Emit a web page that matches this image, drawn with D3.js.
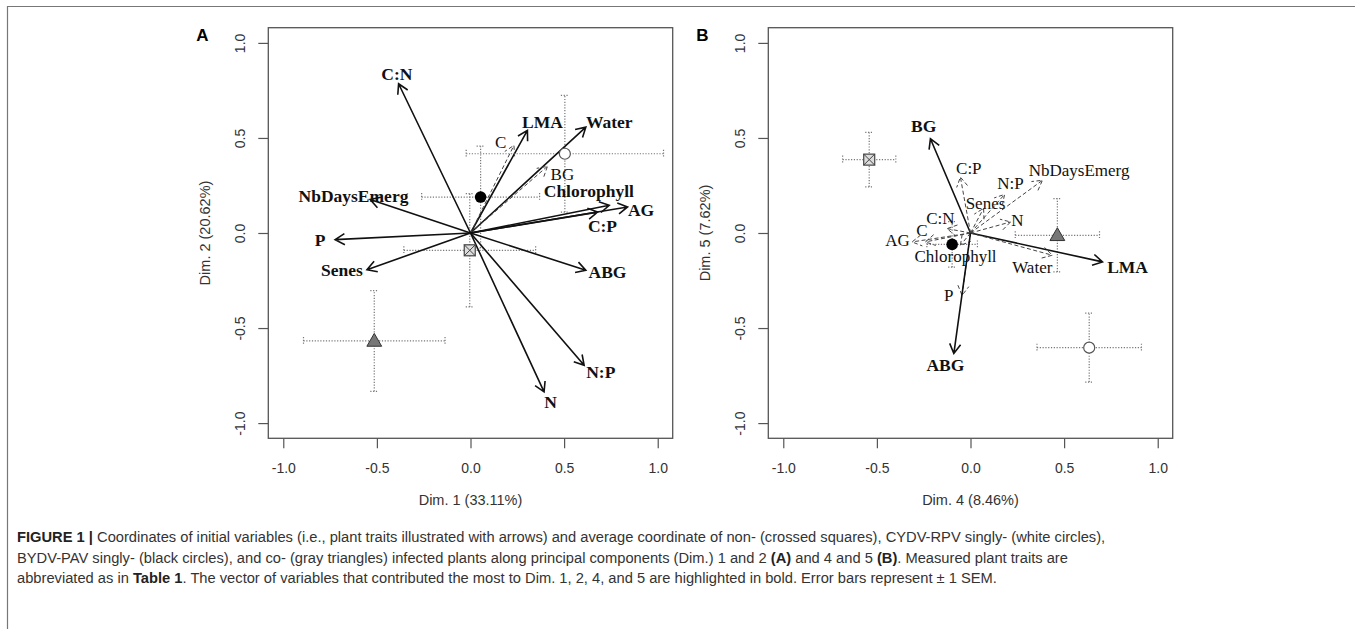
<!DOCTYPE html>
<html lang="en">
<head>
<meta charset="UTF-8">
<title>PCA variables and groups</title>
<style>
  body { margin: 0; background: #fff; }
  svg { display: block; }
  .tick text { font-family: "Liberation Sans", Arial, sans-serif; font-size: 14px; fill: #333; }
  .tick line { stroke: #555; stroke-width: 1.2px; }
  .axis-title { font-family: "Liberation Sans", Arial, sans-serif; font-size: 14.5px; fill: #333; }
  .var-label { font-family: "Liberation Serif", "Times New Roman", serif; font-size: 17px; fill: #111; }
  .caption { font-family: "Liberation Sans", Arial, sans-serif; font-size: 14.7px; fill: #333; }
</style>
</head>
<body>
<svg id="fig" width="1355" height="629"></svg>
<script src="https://d3js.org/d3.v7.min.js"></script>
<script>
// variables (plant traits)
const traits = ["C:N", "NbDaysEmerg", "P", "Senes", "LMA", "Water", "C", "BG",
                "Chlorophyll", "AG", "C:P", "ABG", "N:P", "N"];

// panel A: arrow tips on Dim. 1 / Dim. 2
const dim1 = [-0.384, -0.536, -0.723, -0.553, 0.304, 0.616, 0.232, 0.411, 0.741, 0.839, 0.679, 0.616, 0.607, 0.393];
const dim2 = [0.785, 0.176, -0.035, -0.193, 0.540, 0.557, 0.461, 0.351, 0.146, 0.137, 0.110, -0.196, -0.696, -0.836];
// where the labels sit (data units)
const labA1 = [-0.393, -0.625, -0.803, -0.687, 0.384, 0.741, 0.161, 0.491, 0.632, 0.911, 0.705, 0.732, 0.696, 0.428];
const labA2 = [0.834, 0.193, -0.038, -0.196, 0.584, 0.584, 0.478, 0.31, 0.221, 0.119, 0.035, -0.205, -0.731, -0.889];
const boldA = ["C:N", "NbDaysEmerg", "P", "Senes", "LMA", "Water", "Chlorophyll", "AG", "C:P", "ABG", "N:P", "N"];

// panel B: arrow tips on Dim. 4 / Dim. 5
const dim4 = [-0.125, 0.384, -0.045, 0.07, 0.705, 0.437, -0.241, -0.214, -0.054, -0.312, -0.054, -0.089, 0.182, 0.214];
const dim5 = [0.023, 0.277, -0.328, 0.13, -0.152, -0.117, -0.047, 0.496, -0.065, -0.047, 0.294, -0.634, 0.203, 0.058];
const labB4 = [-0.161, 0.58, -0.116, 0.08, 0.839, 0.33, -0.259, -0.25, -0.08, -0.39, -0.009, -0.134, 0.214, 0.25];
const labB5 = [0.076, 0.33, -0.328, 0.155, -0.179, -0.179, 0.014, 0.561, -0.126, -0.038, 0.339, -0.692, 0.26, 0.067];
const boldB = ["BG", "ABG", "LMA"];

// infection groups: mean coordinate and SEM
const groups = ["non", "CYDV-RPV", "BYDV-PAV", "co"];
const grpDim1 = [-0.004, 0.504, 0.054, -0.514];
const grpDim2 = [-0.091, 0.417, 0.189, -0.568];
const semDim1 = [0.352, 0.527, 0.315, 0.378];
const semDim2 = [0.298, 0.307, 0.268, 0.265];
const grpDim4 = [-0.541, 0.634, -0.098, 0.464];
const grpDim5 = [0.386, -0.603, -0.06, -0.012];
const semDim4 = [0.142, 0.279, 0.135, 0.225];
const semDim5 = [0.143, 0.181, 0.12, 0.193];

const tickVals = [-1.0, -0.5, 0.0, 0.5, 1.0];
const tickFmt = d => d.toFixed(1);

const svg = d3.select("#fig");

// figure frame
svg.append("path")
  .attr("d", "M7.5,629 L7.5,6.5 L1355,6.5")
  .attr("fill", "none").attr("stroke", "#777").attr("stroke-width", 1.2);

function drawPanel(opt) {
  const x = d3.scaleLinear().domain([-1.08, 1.08]).range([opt.left, opt.left + 404.4]);
  const y = d3.scaleLinear().domain([-1.08, 1.08]).range([438.3, 27.7]);
  const g = svg.append("g");

  // x axis
  const xa = g.append("g").attr("transform", "translate(0,438.3)")
    .call(d3.axisBottom(x).tickValues(tickVals).tickFormat(tickFmt).tickSize(10).tickPadding(15));
  xa.select(".domain").remove();

  // y axis, labels turned like in R
  const ya = g.append("g").attr("transform", `translate(${opt.left},0)`)
    .call(d3.axisLeft(y).tickValues(tickVals).tickFormat(tickFmt).tickSize(10).tickPadding(0));
  ya.select(".domain").remove();
  ya.selectAll(".tick text")
    .attr("x", 0).attr("dy", null)
    .attr("transform", "translate(-28,0) rotate(-90)")
    .attr("text-anchor", "middle")
    .attr("dominant-baseline", "central");

  // box
  g.append("rect")
    .attr("x", x(-1.08)).attr("y", y(1.08))
    .attr("width", x(1.08) - x(-1.08)).attr("height", y(-1.08) - y(1.08))
    .attr("fill", "none").attr("stroke", "#555").attr("stroke-width", 1.3);

  g.append("text").attr("class", "axis-title")
    .attr("x", x(0)).attr("y", 505).attr("text-anchor", "middle").text(opt.xTitle);
  g.append("text").attr("class", "axis-title")
    .attr("transform", `translate(${opt.left - 63},${y(0)}) rotate(-90)`)
    .attr("text-anchor", "middle").attr("dominant-baseline", "central").text(opt.yTitle);

  g.append("text")
    .attr("x", opt.left - 66).attr("y", 41)
    .attr("text-anchor", "middle")
    .style("font-family", "Liberation Sans, Arial, sans-serif")
    .style("font-weight", "bold").style("font-size", "17px")
    .text(opt.letter);

  // error bars
  const eb = g.append("g")
    .attr("stroke", "#777").attr("stroke-width", 1.2)
    .attr("stroke-dasharray", "1.2,1.6").attr("fill", "none");
  groups.forEach((name, i) => {
    const cx = opt.gx[i], cy = opt.gy[i], sx = opt.sx[i], sy = opt.sy[i];
    eb.append("line").attr("x1", x(cx - sx)).attr("x2", x(cx + sx)).attr("y1", y(cy)).attr("y2", y(cy));
    eb.append("line").attr("x1", x(cx)).attr("x2", x(cx)).attr("y1", y(cy - sy)).attr("y2", y(cy + sy));
    [cx - sx, cx + sx].forEach(v => eb.append("line")
      .attr("x1", x(v)).attr("x2", x(v)).attr("y1", y(cy) - 4).attr("y2", y(cy) + 4));
    [cy - sy, cy + sy].forEach(v => eb.append("line")
      .attr("x1", x(cx) - 4).attr("x2", x(cx) + 4).attr("y1", y(v)).attr("y2", y(v)));
  });

  // arrows
  const ar = g.append("g");
  traits.forEach((name, i) => {
    const bold = opt.bold.includes(name);
    const x0 = x(0), y0 = y(0), x1 = x(opt.vx[i]), y1 = y(opt.vy[i]);
    const ang = Math.atan2(y1 - y0, x1 - x0);
    const len = 11, spread = Math.PI / 6;
    const head = [ang + Math.PI - spread, ang + Math.PI + spread]
      .map(a => [x1 + len * Math.cos(a), y1 + len * Math.sin(a)]);
    const line = ar.append("path")
      .attr("d", `M${x0},${y0}L${x1},${y1}M${head[0][0]},${head[0][1]}L${x1},${y1}L${head[1][0]},${head[1][1]}`)
      .attr("fill", "none")
      .attr("stroke", bold ? "#111" : "#444")
      .attr("stroke-width", bold ? 1.6 : 1);
    if (!bold) line.attr("stroke-dasharray", "4,2.5");

    ar.append("text").attr("class", "var-label")
      .attr("x", x(opt.lx[i])).attr("y", y(opt.ly[i]))
      .attr("text-anchor", "middle").attr("dominant-baseline", "central")
      .style("font-weight", bold ? "bold" : "normal")
      .style("font-size", bold ? "17.5px" : "17px")
      .text(name);
  });

  // group markers
  const mk = g.append("g");
  groups.forEach((name, i) => {
    const px = x(opt.gx[i]), py = y(opt.gy[i]);
    if (name === "non") {
      mk.append("rect").attr("x", px - 5.5).attr("y", py - 5.5).attr("width", 11).attr("height", 11)
        .attr("fill", "#ddd").attr("stroke", "#444").attr("stroke-width", 1.2);
      mk.append("path").attr("d", `M${px - 5.5},${py - 5.5}L${px + 5.5},${py + 5.5}M${px + 5.5},${py - 5.5}L${px - 5.5},${py + 5.5}`)
        .attr("stroke", "#444").attr("stroke-width", 1);
    } else if (name === "CYDV-RPV") {
      mk.append("circle").attr("cx", px).attr("cy", py).attr("r", 5.5)
        .attr("fill", "#fff").attr("stroke", "#555").attr("stroke-width", 1.2);
    } else if (name === "BYDV-PAV") {
      mk.append("circle").attr("cx", px).attr("cy", py).attr("r", 5.8).attr("fill", "#000");
    } else {
      mk.append("path")
        .attr("d", d3.symbol().type(d3.symbolTriangle).size(95)())
        .attr("transform", `translate(${px},${py + 1})`)
        .attr("fill", "#777").attr("stroke", "#333").attr("stroke-width", 1);
    }
  });
}

drawPanel({
  left: 268.3, letter: "A", xTitle: "Dim. 1 (33.11%)", yTitle: "Dim. 2 (20.62%)",
  vx: dim1, vy: dim2, lx: labA1, ly: labA2, bold: boldA,
  gx: grpDim1, gy: grpDim2, sx: semDim1, sy: semDim2
});
drawPanel({
  left: 768.3, letter: "B", xTitle: "Dim. 4 (8.46%)", yTitle: "Dim. 5 (7.62%)",
  vx: dim4, vy: dim5, lx: labB4, ly: labB5, bold: boldB,
  gx: grpDim4, gy: grpDim5, sx: semDim4, sy: semDim5
});

// caption
const captionLines = [
  [["FIGURE 1 |", true], [" Coordinates of initial variables (i.e., plant traits illustrated with arrows) and average coordinate of non- (crossed squares), CYDV-RPV singly- (white circles),", false]],
  [["BYDV-PAV singly- (black circles), and co- (gray triangles) infected plants along principal components (Dim.) 1 and 2 ", false], ["(A)", true], [" and 4 and 5 ", false], ["(B)", true], [". Measured plant traits are", false]],
  [["abbreviated as in ", false], ["Table 1", true], [". The vector of variables that contributed the most to Dim. 1, 2, 4, and 5 are highlighted in bold. Error bars represent \u00b1 1 SEM.", false]]
];
const cap = svg.append("g");
captionLines.forEach((parts, i) => {
  const t = cap.append("text").attr("class", "caption")
    .attr("x", 17).attr("y", 542 + i * 20.5);
  parts.forEach(([s, b]) => {
    t.append("tspan").text(s)
      .style("font-weight", b ? "bold" : "normal")
      .style("fill", b ? "#222" : "#333");
  });
});
</script>
</body>
</html>
